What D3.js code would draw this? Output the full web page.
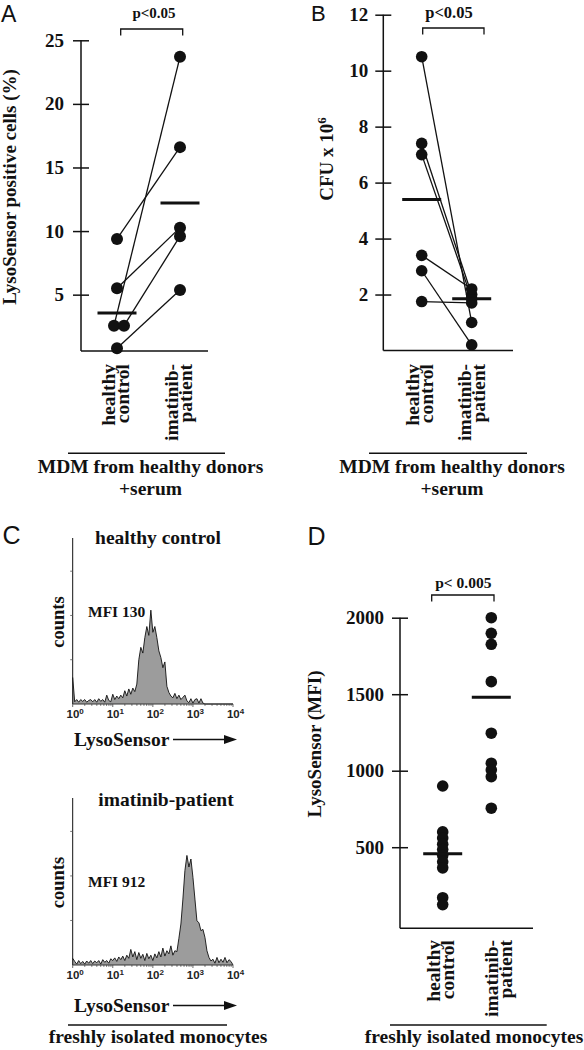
<!DOCTYPE html>
<html><head><meta charset="utf-8">
<script src="https://cdn.jsdelivr.net/npm/d3@7"></script>
<style>
body{margin:0;background:#fff}
svg{display:block}
</style></head><body>
<svg id="fig" width="584" height="1050"></svg>
<script>
// ---------- data ----------
const groups = ["healthy control", "imatinib-patient"];
const groupLines = [["healthy", "control"], ["imatinib-", "patient"]];

// Panel A: LysoSensor positive cells (%)
const aHealthy  = [9.38, 5.5, 2.56, 2.56, 0.79];
const aImatinib = [16.6, 10.27, 23.7, 9.6, 5.37];
const aMeans    = [3.56, 12.2];
const aTicks    = [5, 10, 15, 20, 25];

// Panel B: CFU x 10^6
const bHealthy  = [10.5, 7.4, 7.0, 3.4, 2.85, 1.75];
const bImatinib = [1.0, 2.0, 1.85, 2.2, 0.2, 1.7];
const bMeans    = [5.4, 1.85];
const bTicks    = [2, 4, 6, 8, 10, 12];

// Panel D: LysoSensor (MFI)
const dHealthy  = [900, 600, 560, 520, 485, 445, 405, 365, 170, 125];
const dImatinib = [2000, 1898, 1826, 1582, 1245, 1049, 1005, 961, 755];
const dMeans    = [458, 1480];
const dTicks    = [500, 1000, 1500, 2000];

// Panel C: histograms (log10 channel, counts)
const histExp = [0,0.05,0.1,0.15,0.2,0.25,0.3,0.35,0.4,0.45,
  0.5,0.55,0.6,0.65,0.7,0.75,0.8,0.85,0.9,0.95,
  1,1.05,1.1,1.15,1.2,1.25,1.3,1.35,1.4,1.45,
  1.5,1.55,1.6,1.65,1.7,1.75,1.8,1.85,1.9,1.95,
  2,2.05,2.1,2.15,2.2,2.25,2.3,2.35,2.4,2.45,
  2.5,2.55,2.6,2.65,2.7,2.75,2.8,2.85,2.9,2.95,
  3,3.05,3.1,3.15,3.2,3.25,3.3,3.35,3.4,3.45,
  3.5,3.55,3.6,3.65,3.7,3.75,3.8,3.85,3.9,3.95,4];
const histHealthy = [0.6,0.05,0.1,0.04,0.1,0.06,0.1,0.04,0.08,0.1,
  0.05,0.1,0.04,0.12,0.06,0.1,0.04,0.2,0.08,0.05,
  0.22,0.1,0.18,0.12,0.2,0.14,0.3,0.18,0.34,0.22,
  0.36,0.28,0.45,1.0,1.28,1.15,1.5,1.75,1.55,2.12,
  1.62,1.75,1.5,1.2,1.05,0.82,0.95,0.4,0.26,0.18,
  0.14,0.24,0.12,0.2,0.1,0.15,0.2,0.07,0.03,0.12,
  0.02,0.1,0.12,0.02,0.12,0.02,0,0,0,0,
  0,0,0,0,0,0,0,0,0,0,0];
const histImatinib = [0.15,0.08,0.02,0.1,0.03,0.08,0.02,0.09,0.04,0.1,
  0.03,0.09,0.05,0.1,0.02,0.12,0.06,0.1,0.04,0.14,
  0.1,0.16,0.08,0.18,0.12,0.2,0.1,0.22,0.15,0.35,
  0.18,0.3,0.12,0.28,0.15,0.24,0.1,0.26,0.14,0.22,
  0.1,0.25,0.16,0.3,0.18,0.38,0.2,0.32,0.25,0.43,
  0.22,0.32,0.3,0.6,0.92,1.48,2.12,2.46,2.2,2.38,
  1.97,1.48,0.99,0.95,0.77,0.8,0.62,0.32,0.17,0.09,
  0.13,0.04,0.17,0.05,0.13,0.06,0.17,0.05,0.12,0.08,0];
const histDecades = [0, 1, 2, 3, 4];
const histCountTicks = [1, 2, 3];

// ---------- drawing ----------
const svg = d3.select("#fig");
const INK = "#111";
const SERIF = '"Liberation Serif","Times New Roman",serif';
const SANS = '"Liberation Sans",Arial,Helvetica,sans-serif';

function label(x, y, str, size, o = {}) {
  return svg.append("text")
    .attr("x", x).attr("y", y)
    .attr("font-family", o.sans ? SANS : SERIF)
    .attr("font-weight", o.sans ? "normal" : "bold")
    .attr("font-size", size)
    .attr("fill", INK)
    .attr("text-anchor", o.anchor || "start")
    .text(str);
}
function rlabel(x, y, str, size) {
  return svg.append("text")
    .attr("transform", `translate(${x},${y}) rotate(-90)`)
    .attr("font-family", SERIF).attr("font-weight", "bold")
    .attr("font-size", size).attr("fill", INK)
    .attr("text-anchor", "middle").text(str);
}
function hline(x1, x2, y, w) {
  svg.append("line").attr("x1", x1).attr("x2", x2).attr("y1", y).attr("y2", y)
    .attr("stroke", INK).attr("stroke-width", w || 1.5);
}

function dodge(vals) {
  return vals.map((v, i) => {
    const same = vals.map((u, j) => u === v ? j : -1).filter(j => j >= 0);
    if (same.length < 2) return 0;
    return (same.indexOf(i) - (same.length - 1) / 2) * 10 + 2;
  });
}

function pairedPanel(p) {
  const g = svg.append("g");
  const x = d3.scalePoint().domain(groups).range(p.xRange);
  const y = d3.scaleLinear().domain(p.yDomain).range(p.yRange);
  const y0 = p.yRange[0];

  const ax = d3.axisLeft(y).tickValues(p.ticks).tickFormat(d3.format("d"))
    .tickSize(8).tickPadding(p.tickPad).tickSizeOuter(0);
  const a = g.append("g").attr("transform", `translate(${p.axisX},0)`).call(ax);
  a.select(".domain").remove();
  a.selectAll(".tick line").attr("x1", 8).attr("stroke", INK).attr("stroke-width", 1.5);
  a.selectAll(".tick text").attr("font-family", SERIF).attr("font-weight", "bold")
    .attr("font-size", 19).attr("fill", INK);
  g.append("line").attr("x1", p.axisX).attr("x2", p.axisX)
    .attr("y1", y(d3.max(p.ticks))).attr("y2", y0)
    .attr("stroke", INK).attr("stroke-width", 1.5);
  g.append("line").attr("x1", p.axisX).attr("x2", p.xAxisEnd)
    .attr("y1", y0).attr("y2", y0).attr("stroke", INK).attr("stroke-width", 1.5);

  const hx = x(groups[0]), ix = x(groups[1]);
  const dh = dodge(p.healthy), di = dodge(p.imatinib);

  if (p.paired) {
    g.selectAll("line.pair").data(p.healthy).join("line").attr("class", "pair")
      .attr("x1", (d, i) => hx + dh[i]).attr("y1", d => y(d))
      .attr("x2", (d, i) => ix + di[i]).attr("y2", (d, i) => y(p.imatinib[i]))
      .attr("stroke", INK).attr("stroke-width", 1.3);
  }
  g.selectAll("circle.h").data(p.healthy).join("circle").attr("class", "h")
    .attr("cx", (d, i) => hx + dh[i]).attr("cy", d => y(d)).attr("r", p.r).attr("fill", INK);
  g.selectAll("circle.i").data(p.imatinib).join("circle").attr("class", "i")
    .attr("cx", (d, i) => ix + di[i]).attr("cy", d => y(d)).attr("r", p.r).attr("fill", INK);
  g.selectAll("line.mean").data(p.means).join("line").attr("class", "mean")
    .attr("x1", (d, i) => x(groups[i]) - 19.5).attr("x2", (d, i) => x(groups[i]) + 19.5)
    .attr("y1", d => y(d)).attr("y2", d => y(d))
    .attr("stroke", INK).attr("stroke-width", 3);

  const bx1 = hx + p.bracket[0], bx2 = ix + p.bracket[1];
  g.append("path").attr("d", `M${bx1},${p.bracketY + 6.5}V${p.bracketY}H${bx2}V${p.bracketY + 6.5}`)
    .attr("fill", "none").attr("stroke", INK).attr("stroke-width", 1.3);
  label(p.pText[0], p.pText[1], p.pLabel, p.pSize, { anchor: "middle" });

  groups.forEach((gname, k) => {
    const cx = x(gname) + p.labelDx[k];
    groupLines[k].forEach((ln, j) => {
      svg.append("text")
        .attr("transform", `translate(${cx + (j - 0.5) * 14},${p.labelTop}) rotate(-90)`)
        .attr("font-family", SERIF).attr("font-weight", "bold").attr("font-size", 19.5)
        .attr("fill", INK).attr("text-anchor", "end").attr("dominant-baseline", "central")
        .text(ln);
    });
  });
  return { x, y };
}

// Panel A
pairedPanel({
  xRange: [117, 180], yDomain: [0.57, 25], yRange: [351, 40.3],
  axisX: 81, xAxisEnd: 208, ticks: aTicks, tickPad: 9,
  healthy: aHealthy, imatinib: aImatinib, means: aMeans, paired: true, r: 6,
  bracket: [3.7, 2.7], bracketY: 29, pText: [154, 17.5], pLabel: "p<0.05", pSize: 15,
  labelTop: 364, labelDx: [-2, -1.5]
});
rlabel(16, 187, "LysoSensor positive cells (%)", 19);
label(1, 21.7, "A", 23, { sans: true });
hline(68, 225, 453.3, 1.5);
label(150.5, 473, "MDM from healthy donors", 19.5, { anchor: "middle" });
label(150.5, 495, "+serum", 19.5, { anchor: "middle" });

// Panel B
pairedPanel({
  xRange: [421.7, 471.7], yDomain: [0, 12], yRange: [350.5, 14.7],
  axisX: 383.3, xAxisEnd: 513, ticks: bTicks, tickPad: 7,
  healthy: bHealthy, imatinib: bImatinib, means: bMeans, paired: true, r: 5.8,
  bracket: [1, 12.3], bracketY: 28, pText: [449, 18], pLabel: "p<0.05", pSize: 16.5,
  labelTop: 364, labelDx: [-2.5, -0.7]
});
{
  const t = svg.append("text")
    .attr("transform", "translate(333,159) rotate(-90)")
    .attr("font-family", SERIF).attr("font-weight", "bold")
    .attr("font-size", 19).attr("fill", INK).attr("text-anchor", "middle");
  t.append("tspan").text("CFU x 10");
  t.append("tspan").attr("font-size", 13).attr("dy", -7).text("6");
}
label(311, 20.7, "B", 22, { sans: true });
hline(369, 527, 453.3, 1.5);
label(452, 473, "MDM from healthy donors", 19.5, { anchor: "middle" });
label(452, 495, "+serum", 19.5, { anchor: "middle" });

// Panel D
pairedPanel({
  xRange: [442.7, 491.3], yDomain: [-30, 2000], yRange: [928.3, 617.7],
  axisX: 400, xAxisEnd: 533, ticks: dTicks, tickPad: 8,
  healthy: dHealthy, imatinib: dImatinib, means: dMeans, paired: false, r: 5.8,
  bracket: [-11, 2.7], bracketY: 595, pText: [463.3, 588], pLabel: "p< 0.005", pSize: 15.5,
  labelTop: 940, labelDx: [-2, 7]
});
rlabel(321, 744, "LysoSensor (MFI)", 19);
label(307.5, 545, "D", 25, { sans: true });
hline(390, 546.7, 1025, 1.5);
label(474, 1043, "freshly isolated monocytes", 19.5, { anchor: "middle" });

// Panel C
label(2.5, 543.5, "C", 25, { sans: true });
function histogram(p) {
  const hx = d3.scaleLog().domain([1, 1e4]).range([72.7, 233]);
  const hy = d3.scaleLinear().domain([0, 3.75]).range([p.bottom, p.top]);
  const pts = histExp.map((e, i) => [Math.pow(10, e), p.counts[i]]);
  svg.append("path").datum(pts)
    .attr("d", d3.area().x(d => hx(d[0])).y0(hy(0)).y1(d => hy(d[1])))
    .attr("fill", "#9c9c9c");
  svg.append("path").datum(pts)
    .attr("d", d3.line().x(d => hx(d[0])).y(d => hy(d[1])))
    .attr("fill", "none").attr("stroke", INK).attr("stroke-width", 0.9);
  svg.append("line").attr("x1", hx(1)).attr("x2", hx(1)).attr("y1", p.top).attr("y2", p.bottom)
    .attr("stroke", INK).attr("stroke-width", 1);
  svg.append("line").attr("x1", hx(1)).attr("x2", hx(1e4)).attr("y1", p.bottom).attr("y2", p.bottom)
    .attr("stroke", "#333").attr("stroke-width", 1);
  svg.selectAll(null).data(histCountTicks).join("line")
    .attr("x1", hx(1) - 2.5).attr("x2", hx(1)).attr("y1", d => hy(d)).attr("y2", d => hy(d))
    .attr("stroke", "#555").attr("stroke-width", 0.8);
  svg.selectAll(null).data(hx.ticks()).join("line")
    .attr("x1", d => hx(d)).attr("x2", d => hx(d)).attr("y1", p.bottom)
    .attr("y2", d => p.bottom + (Math.abs(Math.log10(d) % 1) < 1e-9 ? 3 : 1.8))
    .attr("stroke", "#444").attr("stroke-width", 0.8);
  histDecades.forEach(e => {
    const t = svg.append("text").attr("x", hx(Math.pow(10, e)) + 2.5).attr("y", p.bottom + 14)
      .attr("font-family", SANS).attr("font-weight", "bold").attr("font-size", 11.5)
      .attr("fill", "#222").attr("text-anchor", "middle");
    t.append("tspan").text("10");
    t.append("tspan").attr("font-size", 8).attr("dy", -4.5).text(String(e));
  });
  label(p.titleX, p.titleY, p.title, 19.5, { anchor: "middle" });
  svg.append("text").attr("transform", `translate(63.5,${p.countsY}) rotate(-90)`)
    .attr("font-family", SERIF).attr("font-weight", "bold").attr("font-size", 18.5)
    .attr("fill", INK).attr("text-anchor", "middle").text("counts");
  label(88, p.mfiY, p.mfi, 15.5);
  label(74, p.lsY, "LysoSensor", 19.5);
  const ay = p.lsY - 6.5;
  svg.append("line").attr("x1", 173).attr("x2", 228).attr("y1", ay).attr("y2", ay)
    .attr("stroke", INK).attr("stroke-width", 1.6);
  svg.append("path").attr("d", `M237,${ay}L224,${ay - 4.5}L224,${ay + 4.5}Z`).attr("fill", INK);
}
histogram({ top: 538, bottom: 704, counts: histHealthy, title: "healthy control",
  titleX: 158, titleY: 544, countsY: 622, mfi: "MFI 130", mfiY: 617, lsY: 746 });
histogram({ top: 798, bottom: 965, counts: histImatinib, title: "imatinib-patient",
  titleX: 166, titleY: 806, countsY: 882.5, mfi: "MFI 912", mfiY: 887, lsY: 1012 });
hline(68, 227, 1025, 1.5);
label(158, 1043, "freshly isolated monocytes", 19.5, { anchor: "middle" });
</script>
</body></html>
